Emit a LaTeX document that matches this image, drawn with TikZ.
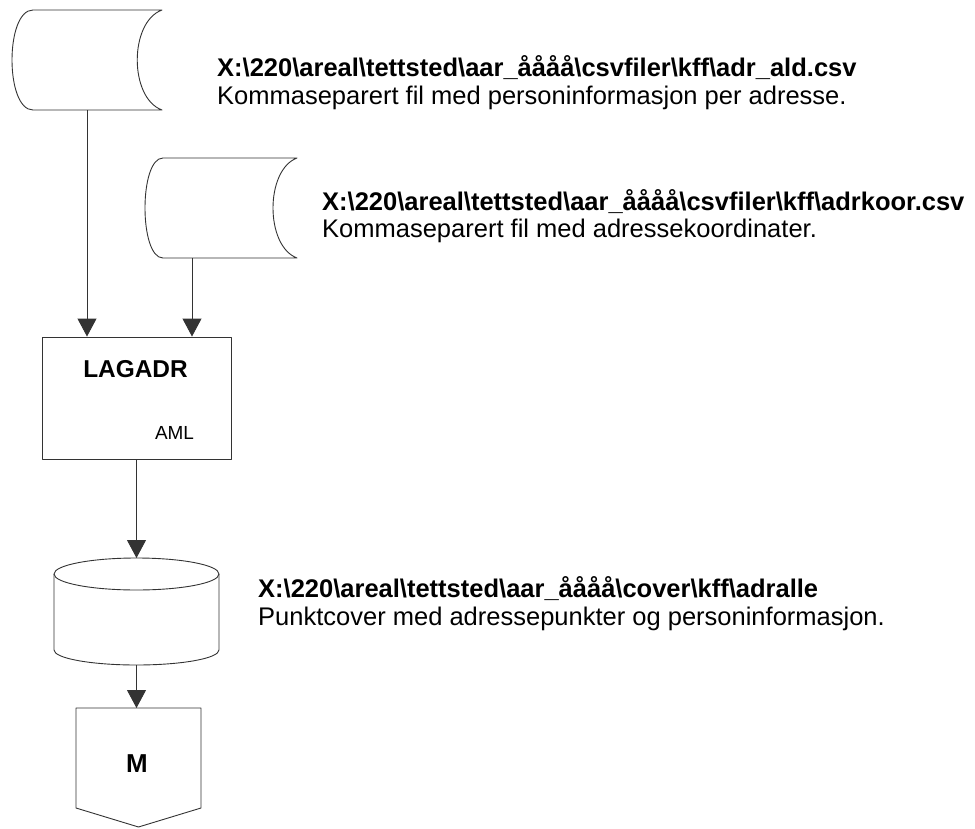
\documentclass[tikz,border=0pt]{standalone}
\usepackage{fontspec}
\setmainfont{Liberation Sans}
\usetikzlibrary{arrows.meta}
\newcommand{\bsl}{\textbackslash}
\begin{document}
\begin{tikzpicture}[x=1bp,y=-1bp,line join=round,
  outline/.style={draw=black!80,line width=0.9bp},
  flow/.style={outline,-{Triangle[width=19bp,length=18bp]}},
  area/.style 2 args={inner sep=0,outer sep=0,minimum width=#1,minimum height=#2},
  pathtxt/.style={font=\fontsize{25.6}{28}\selectfont\bfseries,anchor=base west,inner sep=0},
  desctxt/.style={font=\fontsize{25.6}{28}\selectfont,anchor=base west,inner sep=0},
  boxtxt/.style={font=\fontsize{24.5}{28}\selectfont\bfseries,anchor=base,inner sep=0},
  smalltxt/.style={font=\fontsize{19}{22}\selectfont,anchor=base,inner sep=0}]
\useasboundingbox (0,0) rectangle (975,829);

% stored data: personinformasjon
\node[area={150bp}{100bp}] (f1) at (87,60) {};
\draw[outline] ([xshift=21bp]f1.north west) -- (f1.north east)
  .. controls +(-33,12) and +(-33,-12) .. (f1.south east)
  -- ([xshift=21bp]f1.south west)
  .. controls +(-28,0) and +(-28,0) .. ([xshift=21bp]f1.north west);

% stored data: adressekoordinater
\node[area={152bp}{100bp}] (f2) at (221,208) {};
\draw[outline] ([xshift=18bp]f2.north west) -- (f2.north east)
  .. controls +(-32,12) and +(-32,-12) .. (f2.south east)
  -- ([xshift=18bp]f2.south west)
  .. controls +(-24,0) and +(-24,0) .. ([xshift=18bp]f2.north west);

% process LAGADR
\node[outline,inner sep=0,minimum width=189bp,minimum height=122bp] (lag) at (136.5,398) {};
\node[boxtxt] (lagname) at (135.5,377) {LAGADR};
\node[smalltxt] (lagaml) at (174.5,439) {AML};

% coverage (cylinder)
\node[area={165bp}{107bp}] (cyl) at (136.5,611.5) {};
\draw[outline] ([yshift=-16bp]cyl.north) ellipse [x radius=82.5bp,y radius=16bp];
\draw[outline] ([yshift=-16bp]cyl.north west) -- ([yshift=15bp]cyl.south west)
  arc[start angle=180,end angle=360,x radius=82.5bp,y radius=15bp]
  -- ([yshift=-16bp]cyl.north east);

% off-page connector M
\node[area={125bp}{119bp}] (mrg) at (138.5,767.5) {};
\draw[outline] (mrg.north west) -- (mrg.north east) -- ([yshift=19bp]mrg.south east)
  -- (mrg.south) -- ([yshift=19bp]mrg.south west) -- cycle;
\node[boxtxt,font=\fontsize{26}{28}\selectfont\bfseries] (mtxt) at (137,772) {M};

% connectors
\draw[flow] (f1.south) -- (f1.south |- lag.north);
\draw[flow] ([xshift=-29bp]f2.south) -- ([xshift=-29bp]f2.south |- lag.north);
\draw[flow] (lag.south) -- (cyl.north);
\draw[flow] (cyl.south) -- (cyl.south |- mrg.north);

% file descriptions
\node[pathtxt] (t1a) at (217,76) {X:\bsl220\bsl areal\bsl tettsted\bsl aar\_åååå\bsl csvfiler\bsl kff\bsl adr\_ald.csv};
\node[desctxt] (t1b) at (217,104) {Kommaseparert fil med personinformasjon per adresse.};
\node[pathtxt] (t2a) at (322,210) {X:\bsl220\bsl areal\bsl tettsted\bsl aar\_åååå\bsl csvfiler\bsl kff\bsl adrkoor.csv};
\node[desctxt] (t2b) at (322,237) {Kommaseparert fil med adressekoordinater.};
\node[pathtxt] (t3a) at (258,597) {X:\bsl220\bsl areal\bsl tettsted\bsl aar\_åååå\bsl cover\bsl kff\bsl adralle};
\node[desctxt] (t3b) at (258,625) {Punktcover med adressepunkter og personinformasjon.};
\end{tikzpicture}
\end{document}
